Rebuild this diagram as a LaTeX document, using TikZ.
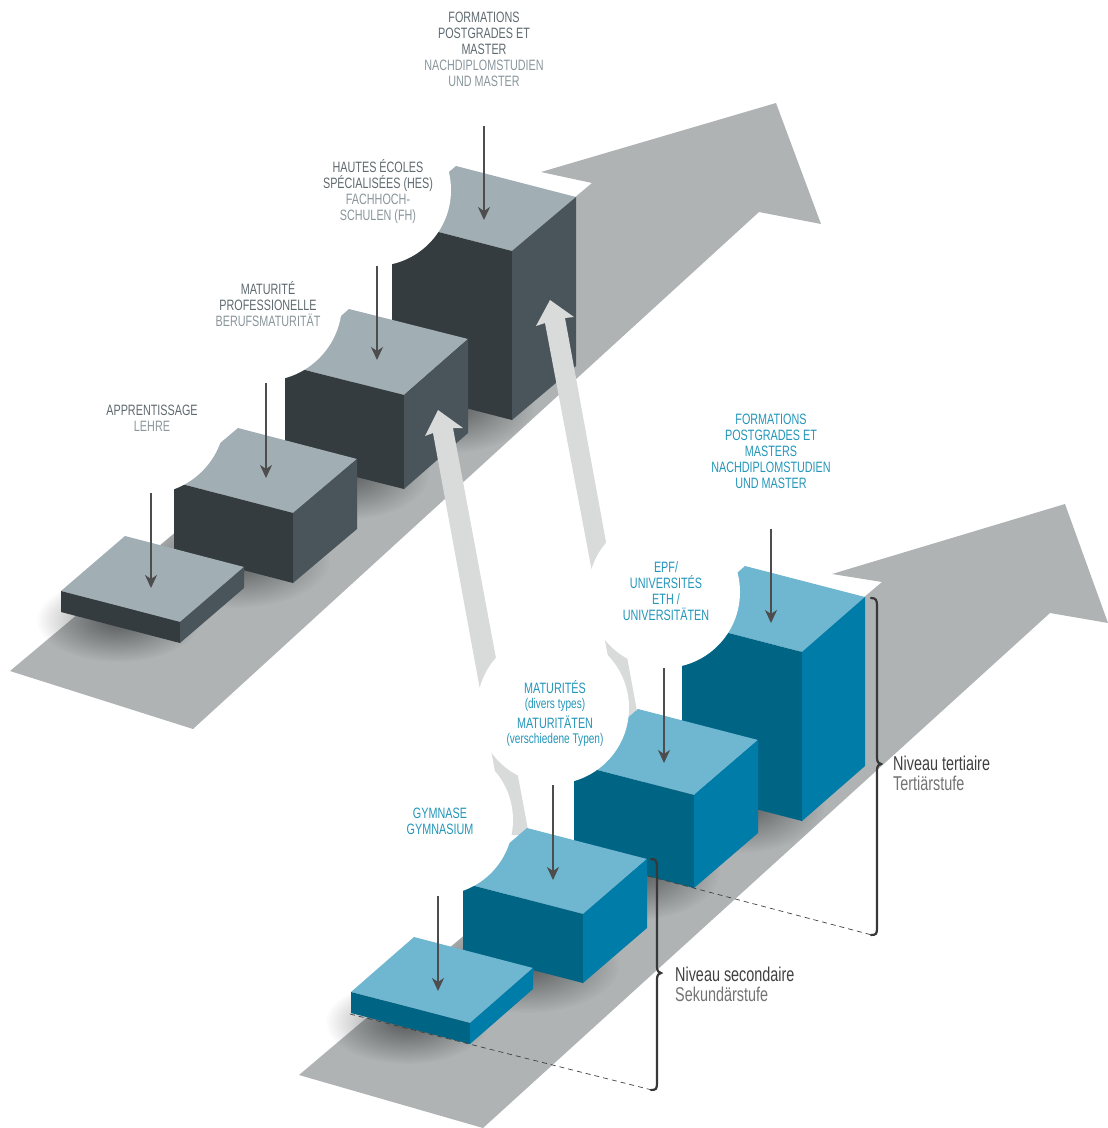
\documentclass[tikz,border=0pt]{standalone}
\usepackage{fontspec}
\setmainfont[FakeStretch=0.72]{Liberation Sans}
\usetikzlibrary{arrows.meta,calc,fadings}
\definecolor{bandgrey}{HTML}{AFB3B4}
\definecolor{lightarrow}{HTML}{D9DBDB}
\definecolor{arrowline}{HTML}{4D4D4D}
\definecolor{slatetop}{HTML}{A1AEB4}
\definecolor{slatefront}{HTML}{343C3F}
\definecolor{slateside}{HTML}{4A555B}
\definecolor{bluetop}{HTML}{6FB6D0}
\definecolor{bluefront}{HTML}{006485}
\definecolor{blueside}{HTML}{007CA8}
\definecolor{textdark}{HTML}{5F6A70}
\definecolor{textlight}{HTML}{8A969B}
\definecolor{textblue}{HTML}{2396BA}
\tikzfading[name=softfade, inner color=transparent!50, outer color=transparent!100]
\tikzset{
    bubble/.style={fill=white},
    softshadow/.style={fill=black, path fading=softfade},
    bigarrow/.style={fill=lightarrow},
    downarrow/.style={arrowline, line width=1.2pt, -{Stealth[length=13pt,width=12pt,inset=4pt]}},
    slatelabel/.style={inner sep=0pt, align=center, text=textdark, font=\fontsize{15}{16}\selectfont},
    bluelabel/.style={inner sep=0pt, align=center, text=textblue, font=\fontsize{15}{16}\selectfont},
    levellabel/.style={inner sep=0pt, align=left, anchor=west, text=black!75, font=\fontsize{20}{20}\selectfont},
    bracket/.style={draw=black!78, line width=2.2pt, line cap=round},
    levelline/.style={black!75, line width=0.7pt, dash pattern=on 5pt off 4pt}
}
\newcommand{\stepcube}[8]{
    \coordinate (f) at (#2,#3);
    \coordinate (r) at (#4,#5);
    \coordinate (b) at (#6,#7);
    \coordinate (l) at ($(f)+(b)-(r)$);
    \fill[#1top] (f) -- (r) -- (b) -- (l) -- cycle;
    \fill[#1front] (l) -- (f) -- ($(f)+(0,#8)$) -- ($(l)+(0,#8)$) -- cycle;
    \fill[#1side] (f) -- (r) -- ($(r)+(0,#8)$) -- ($(f)+(0,#8)$) -- cycle;
}
\def\upperband{(10,671) -- (193,729) -- (759,212) -- (821,224) -- (776,103) -- (541,172) -- (592,183) -- cycle}
\def\lowerband{(299,1075) -- (483,1128) -- (1050,613) -- (1108,623) -- (1065,504) -- (832,574) -- (882,582) -- cycle}
\begin{document}
\begin{tikzpicture}[x=1pt, y=-1pt]
    \useasboundingbox (0,0) rectangle (1108,1128);

    \fill[bandgrey] \upperband;
    \begin{scope}
        \clip \upperband;
        \fill[softshadow] (235,560) ellipse [x radius=95, y radius=48];
        \fill[softshadow] (345,472) ellipse [x radius=85, y radius=48];
        \fill[softshadow] (450,405) ellipse [x radius=85, y radius=48];
    \end{scope}
    \fill[softshadow] (118,620) ellipse [x radius=82, y radius=42];

    \stepcube{slate}{512}{251}{576}{197}{456}{166}{169}
    \fill[bubble] (375,190) circle (76);
    \stepcube{slate}{404}{395}{468}{339}{349}{309}{94}
    \fill[bubble] (264,303) circle (78);
    \stepcube{slate}{293}{513}{357}{459}{238}{428}{70}
    \fill[bubble] (147,416) circle (78);
    \stepcube{slate}{180}{622}{244}{567}{125}{536}{21}

    \fill[bigarrow] (506.6,835) -- (433,433) -- (425,436) -- (438,410) -- (463,428) -- (453,428) -- (529,835) -- cycle;
    \fill[bigarrow] (620,720) -- (545,323) -- (536,326) -- (550,300) -- (574,317) -- (565,318) -- (638.6,720) -- cycle;

    \fill[bandgrey] \lowerband;
    \begin{scope}
        \clip \lowerband;
        \fill[softshadow] (525,965) ellipse [x radius=95, y radius=48];
        \fill[softshadow] (635,872) ellipse [x radius=85, y radius=48];
        \fill[softshadow] (740,805) ellipse [x radius=85, y radius=48];
    \end{scope}
    \fill[softshadow] (407,1022) ellipse [x radius=82, y radius=42];

    \stepcube{blue}{802}{652}{865}{597}{745}{566}{169}
    \fill[bubble] (664,592) circle (76);
    \stepcube{blue}{694}{795}{758}{740}{638}{709}{93}
    \fill[bubble] (553,708) circle (76);
    \stepcube{blue}{583}{914}{647}{859}{527}{828}{69}
    \fill[bubble] (438,820) circle (75);
    \stepcube{blue}{470}{1023}{533}{968}{414}{937}{21}

    \coordinate (lehretop) at (151,493);
    \coordinate (lehreend) at (151,588);
    \coordinate (berufstop) at (266,383);
    \coordinate (berufsend) at (266,478);
    \coordinate (hestop) at (377,266);
    \coordinate (hesend) at (377,360);
    \coordinate (mastertop) at (484,126);
    \coordinate (masterend) at (484,220);
    \coordinate (gymtop) at (438,896);
    \coordinate (gymend) at (438,991);
    \coordinate (matutop) at (553,785);
    \coordinate (matuend) at (553,880);
    \coordinate (unitop) at (664,668);
    \coordinate (uniend) at (664,763);
    \coordinate (postgradtop) at (771,529);
    \coordinate (postgradend) at (771,623);

    \path [downarrow] (lehretop) edge (lehreend);
    \path [downarrow] (berufstop) edge (berufsend);
    \path [downarrow] (hestop) edge (hesend);
    \path [downarrow] (mastertop) edge (masterend);
    \path [downarrow] (gymtop) edge (gymend);
    \path [downarrow] (matutop) edge (matuend);
    \path [downarrow] (unitop) edge (uniend);
    \path [downarrow] (postgradtop) edge (postgradend);

    \node[slatelabel] (lehre) at (152,418) {APPRENTISSAGE\\\textcolor{textlight}{LEHRE}};
    \node[slatelabel] (berufs) at (268,304) {MATURITÉ\\PROFESSIONELLE\\\textcolor{textlight}{BERUFSMATURITÄT}};
    \node[slatelabel] (hes) at (378,192) {HAUTES ÉCOLES\\SPÉCIALISÉES (HES)\\\textcolor{textlight}{FACHHOCH-}\\\textcolor{textlight}{SCHULEN (FH)}};
    \node[slatelabel] (master) at (484,49) {FORMATIONS\\POSTGRADES ET\\MASTER\\\textcolor{textlight}{NACHDIPLOMSTUDIEN}\\\textcolor{textlight}{UND MASTER}};
    \node[bluelabel] (postgrad) at (771,451) {FORMATIONS\\POSTGRADES ET\\MASTERS\\NACHDIPLOMSTUDIEN\\UND MASTER};
    \node[bluelabel] (uni) at (666,591) {EPF/\\UNIVERSITÉS\\ETH /\\UNIVERSITÄTEN};
    \node[bluelabel] (matu) at (555,713) {MATURITÉS\\[-1pt]{\fontsize{14}{14}\selectfont (divers types)}\\[4pt]MATURITÄTEN\\[-1pt]{\fontsize{14}{14}\selectfont (verschiedene Typen)}};
    \node[bluelabel] (gym) at (440,821) {GYMNASE\\GYMNASIUM};

    \node[levellabel] (sek) at (675,984) {Niveau secondaire\\\textcolor{black!55}{Sekundärstufe}};
    \node[levellabel] (tert) at (893,773) {Niveau tertiaire\\\textcolor{black!55}{Tertiärstufe}};

    \coordinate (sekstart) at (350,1014);
    \coordinate (sekdash) at (652,1090);
    \coordinate (tertstart) at (648,876);
    \coordinate (tertdash) at (872,935);
    \path [levelline] (sekstart) edge (sekdash);
    \path [levelline] (tertstart) edge (tertdash);

    \draw[bracket] (651,859) .. controls (656,859) and (657,861) .. (657,867) -- (657,967) .. controls (657,971) and (659,973) .. (661,973) .. controls (659,973) and (657,975) .. (657,979) -- (657,1083) .. controls (657,1089) and (656,1090) .. (651,1090);
    \draw[bracket] (871,598) .. controls (876,598) and (877,600) .. (877,606) -- (877,758) .. controls (877,762) and (879,764) .. (881,764) .. controls (879,764) and (877,766) .. (877,770) -- (877,928) .. controls (877,934) and (876,935) .. (871,935);
\end{tikzpicture}
\end{document}
